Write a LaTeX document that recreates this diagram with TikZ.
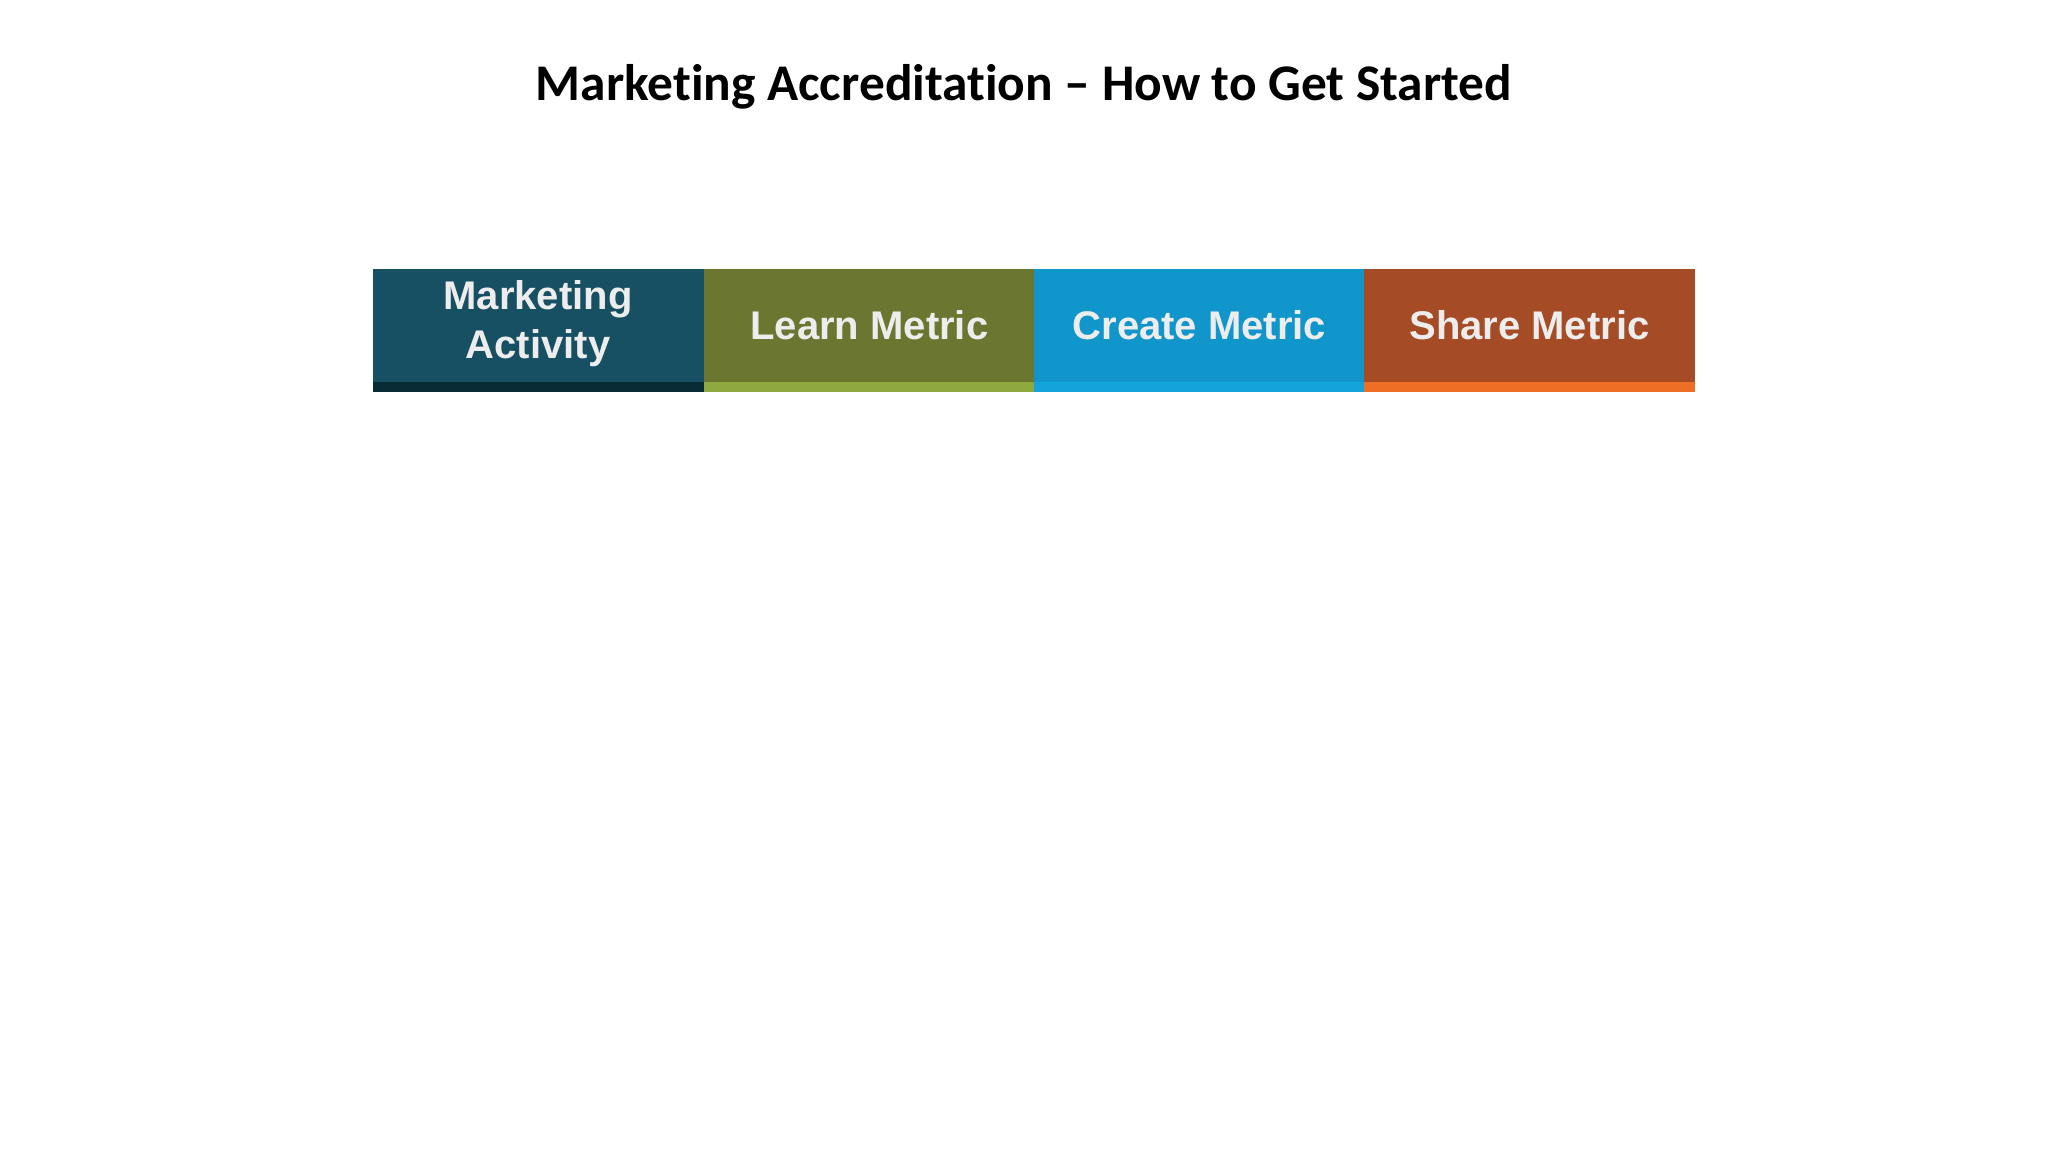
\documentclass[tikz,border=0pt]{standalone}
\usepackage{fontspec}
\setmainfont{Liberation Sans}
\newfontfamily\titlefont[Ligatures=NoCommon]{Carlito}
\definecolor{cA}{HTML}{174F63}
\definecolor{sA}{HTML}{082A35}
\definecolor{cB}{HTML}{6B7730}
\definecolor{sB}{HTML}{8FA840}
\definecolor{cC}{HTML}{1196CB}
\definecolor{sC}{HTML}{13A4DC}
\definecolor{cD}{HTML}{A54B25}
\definecolor{sD}{HTML}{EE6E26}
\definecolor{txt}{HTML}{EDEDED}
\begin{document}
\begin{tikzpicture}[x=0.5pt,y=-0.5pt,
  box/.style={minimum width=165pt,minimum height=56pt,inner sep=0pt,anchor=north west,
    text=txt,font=\fontsize{20}{24}\selectfont\bfseries,align=center,draw=#1,fill=#1},
  strip/.style={minimum width=165pt,minimum height=4.75pt,inner sep=0pt,anchor=north west,draw=#1,fill=#1}]
\useasboundingbox[fill=white] (0,0) rectangle (2048,1152);
\node[font=\titlefont\fontsize{25.7}{30}\selectfont\bfseries] (title) at (1024,87) {Marketing Accreditation – How to Get Started};
\node[strip=sA] (ma2) at (373,381) {};
\node[strip=sB] (lm2) at (704,381) {};
\node[strip=sC] (cm2) at (1034,381) {};
\node[strip=sD] (sm2) at (1364,381) {};
\node[box=cA] (ma) at (373,269) {};
\node[anchor=center,text=txt,font=\fontsize{20}{24.5}\selectfont\bfseries,align=center,inner sep=0pt] (matext) at (538,324) {Marketing\\Activity};
\node[box=cB] (lm) at (704,269) {Learn Metric};
\node[box=cC] (cm) at (1034,269) {Create Metric};
\node[box=cD] (sm) at (1364,269) {Share Metric};
\end{tikzpicture}
\end{document}
